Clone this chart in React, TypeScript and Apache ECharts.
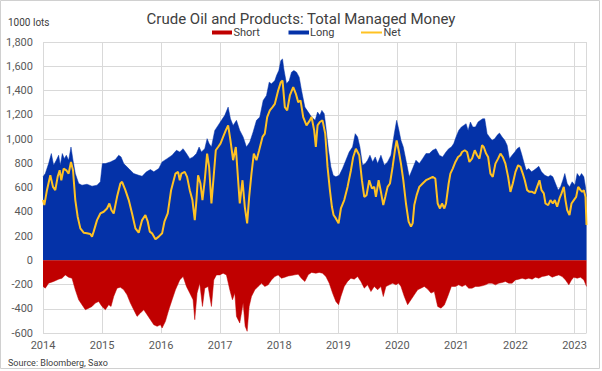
import React, { useEffect, useRef } from "react";
import * as echarts from "echarts";

const TITLE = "Crude Oil and Products: Total Managed Money";
const UNIT_LABEL = "1000 lots";
const SOURCE = "Source: Bloomberg, Saxo";
const X_MIN = 2014;
const X_MAX = 2023.203;

// [decimal year, 1000 lots]
const longData: [number, number][] = [
  [2014.0, 688], [2014.039, 715], [2014.095, 797], [2014.141, 880], [2014.18, 784], [2014.225, 825], [2014.265, 866], [2014.293, 784], [2014.327, 880], [2014.361, 838], [2014.395, 866], [2014.434, 825], [2014.474, 934], [2014.508, 825], [2014.547, 715], [2014.604, 633], [2014.66, 619], [2014.745, 627], [2014.83, 611], [2014.915, 619], [2014.971, 647],
  [2015.005, 797], [2015.056, 797], [2015.141, 811], [2015.225, 830], [2015.282, 866], [2015.322, 852], [2015.367, 797], [2015.452, 756], [2015.536, 715], [2015.621, 701], [2015.678, 693], [2015.751, 729], [2015.819, 748], [2015.876, 729], [2015.96, 756],
  [2016.017, 811], [2016.101, 838], [2016.186, 866], [2016.259, 907], [2016.316, 893], [2016.372, 920], [2016.429, 880], [2016.485, 838], [2016.541, 852], [2016.598, 880], [2016.643, 934], [2016.683, 893], [2016.739, 920], [2016.779, 1003], [2016.813, 962], [2016.852, 934], [2016.909, 1071], [2016.965, 1112],
  [2017.022, 1154], [2017.078, 1195], [2017.135, 1263], [2017.174, 1167], [2017.219, 1112], [2017.276, 1154], [2017.332, 1071], [2017.389, 1017], [2017.445, 934], [2017.502, 975], [2017.558, 1058], [2017.615, 1154], [2017.671, 1181], [2017.728, 1318], [2017.784, 1359], [2017.83, 1469], [2017.869, 1455], [2017.926, 1482], [2017.954, 1523], [2017.993, 1565],
  [2018.027, 1647], [2018.056, 1660], [2018.078, 1578], [2018.123, 1455], [2018.169, 1482], [2018.208, 1551], [2018.248, 1565], [2018.293, 1551], [2018.338, 1510], [2018.378, 1400], [2018.434, 1263], [2018.491, 1222], [2018.547, 1181], [2018.609, 1154], [2018.649, 1222], [2018.688, 1195], [2018.722, 1236], [2018.762, 1208], [2018.79, 1099], [2018.835, 907], [2018.875, 770], [2018.914, 701], [2018.959, 688],
  [2019.016, 701], [2019.072, 756], [2019.129, 825], [2019.185, 893], [2019.242, 934], [2019.287, 1044], [2019.327, 1017], [2019.366, 934], [2019.411, 784], [2019.457, 797], [2019.496, 825], [2019.536, 866], [2019.581, 811], [2019.626, 852], [2019.666, 797], [2019.722, 866], [2019.779, 784], [2019.835, 811], [2019.892, 866], [2019.948, 1044], [2019.988, 1154],
  [2020.022, 1085], [2020.061, 989], [2020.101, 934], [2020.146, 825], [2020.202, 688], [2020.259, 756], [2020.315, 825], [2020.372, 797], [2020.428, 838], [2020.485, 880], [2020.541, 880], [2020.598, 907], [2020.654, 920], [2020.711, 866], [2020.767, 852], [2020.824, 893], [2020.87, 920], [2020.915, 934], [2020.955, 962], [2020.994, 1017],
  [2021.039, 1071], [2021.085, 1099], [2021.124, 1112], [2021.164, 1126], [2021.198, 1071], [2021.237, 1140], [2021.277, 1099], [2021.322, 1099], [2021.367, 1140], [2021.407, 1154], [2021.446, 1167], [2021.48, 1167], [2021.52, 1044], [2021.559, 1017], [2021.604, 989], [2021.65, 1003], [2021.689, 1030], [2021.729, 1049], [2021.774, 1017], [2021.819, 989], [2021.859, 948], [2021.898, 838], [2021.943, 866], [2021.989, 893],
  [2022.028, 920], [2022.068, 934], [2022.102, 880], [2022.141, 811], [2022.181, 742], [2022.226, 756], [2022.271, 729], [2022.311, 742], [2022.35, 756], [2022.395, 775], [2022.441, 729], [2022.497, 701], [2022.554, 688], [2022.593, 701], [2022.633, 688], [2022.678, 633], [2022.723, 578], [2022.763, 605], [2022.802, 660], [2022.836, 715], [2022.876, 633], [2022.915, 605], [2022.96, 647],
  [2023.006, 619], [2023.045, 715], [2023.085, 688], [2023.119, 715], [2023.158, 688], [2023.186, 605], [2023.203, 523],
];

const shortData: [number, number][] = [
  [2014.0, -216], [2014.039, -230], [2014.095, -189], [2014.18, -175], [2014.265, -156], [2014.322, -148], [2014.378, -121], [2014.434, -140], [2014.491, -148], [2014.547, -244], [2014.604, -326], [2014.66, -367], [2014.717, -408], [2014.774, -395], [2014.83, -381], [2014.887, -353], [2014.943, -340], [2014.999, -381],
  [2015.056, -408], [2015.113, -367], [2015.152, -381], [2015.197, -299], [2015.254, -230], [2015.31, -222], [2015.367, -244], [2015.423, -285], [2015.48, -353], [2015.536, -408], [2015.593, -463], [2015.649, -436], [2015.706, -408], [2015.763, -449], [2015.819, -490], [2015.876, -532], [2015.932, -545], [2015.989, -532],
  [2016.017, -559], [2016.073, -504], [2016.13, -408], [2016.186, -326], [2016.243, -244], [2016.316, -162], [2016.372, -134], [2016.429, -216], [2016.485, -271], [2016.541, -326], [2016.57, -490], [2016.609, -271], [2016.654, -189], [2016.7, -381], [2016.739, -230], [2016.796, -216], [2016.852, -381], [2016.892, -162], [2016.937, -121], [2016.993, -121],
  [2017.05, -107], [2017.106, -121], [2017.163, -244], [2017.208, -326], [2017.248, -271], [2017.276, -463], [2017.332, -518], [2017.389, -353], [2017.423, -545], [2017.457, -586], [2017.491, -381], [2017.53, -299], [2017.587, -244], [2017.643, -216], [2017.7, -189], [2017.756, -216], [2017.813, -203], [2017.869, -162], [2017.926, -134], [2017.982, -121],
  [2018.039, -148], [2018.095, -140], [2018.152, -130], [2018.208, -125], [2018.265, -120], [2018.321, -115], [2018.378, -150], [2018.434, -175], [2018.491, -120], [2018.547, -100], [2018.62, -107], [2018.677, -100], [2018.733, -107], [2018.79, -134], [2018.847, -189], [2018.903, -271], [2018.959, -340],
  [2019.005, -367], [2019.044, -299], [2019.101, -216], [2019.157, -175], [2019.214, -148], [2019.27, -156], [2019.327, -134], [2019.383, -175], [2019.44, -230], [2019.496, -203], [2019.553, -258], [2019.609, -216], [2019.666, -244], [2019.722, -216], [2019.762, -299], [2019.807, -216], [2019.863, -203], [2019.92, -189], [2019.976, -203],
  [2020.022, -189], [2020.061, -216], [2020.118, -299], [2020.174, -367], [2020.231, -326], [2020.287, -285], [2020.344, -244], [2020.4, -230], [2020.457, -216], [2020.513, -238], [2020.57, -271], [2020.626, -258], [2020.683, -381], [2020.739, -395], [2020.796, -370], [2020.852, -300], [2020.915, -216], [2020.983, -216],
  [2021.039, -203], [2021.096, -216], [2021.152, -203], [2021.209, -230], [2021.265, -230], [2021.322, -216], [2021.378, -216], [2021.435, -211], [2021.491, -203], [2021.548, -189], [2021.604, -189], [2021.661, -203], [2021.717, -189], [2021.774, -184], [2021.83, -175], [2021.887, -189], [2021.943, -189],
  [2022.0, -162], [2022.056, -156], [2022.113, -148], [2022.169, -156], [2022.226, -148], [2022.282, -156], [2022.339, -140], [2022.395, -148], [2022.452, -134], [2022.508, -129], [2022.565, -121], [2022.621, -140], [2022.678, -129], [2022.734, -121], [2022.791, -134], [2022.847, -162], [2022.904, -203], [2022.949, -162], [2022.989, -140],
  [2023.045, -148], [2023.102, -140], [2023.158, -162], [2023.203, -216],
];

const netData: [number, number][] = [
  [2014.0, 496], [2014.022, 455], [2014.067, 578], [2014.124, 701], [2014.169, 605], [2014.208, 578], [2014.248, 688], [2014.282, 742], [2014.31, 660], [2014.35, 756], [2014.395, 742], [2014.434, 715], [2014.474, 811], [2014.508, 742], [2014.547, 496], [2014.587, 359], [2014.632, 263], [2014.689, 227], [2014.745, 222], [2014.801, 216], [2014.83, 195], [2014.858, 236], [2014.915, 331], [2014.971, 386],
  [2015.028, 400], [2015.084, 427], [2015.124, 468], [2015.158, 414], [2015.197, 386], [2015.254, 523], [2015.31, 633], [2015.339, 647], [2015.395, 578], [2015.452, 496], [2015.508, 386], [2015.565, 263], [2015.621, 227], [2015.678, 331], [2015.734, 373], [2015.774, 318], [2015.808, 236], [2015.847, 222], [2015.904, 173], [2015.96, 195],
  [2016.017, 222], [2016.056, 318], [2016.112, 386], [2016.169, 578], [2016.243, 715], [2016.287, 729], [2016.316, 660], [2016.344, 715], [2016.4, 729], [2016.44, 688], [2016.485, 578], [2016.53, 496], [2016.57, 331], [2016.598, 496], [2016.626, 701], [2016.666, 633], [2016.7, 496], [2016.739, 660], [2016.779, 880], [2016.813, 770], [2016.852, 468], [2016.88, 633], [2016.926, 907], [2016.965, 934],
  [2017.005, 962], [2017.05, 1017], [2017.095, 1071], [2017.135, 1112], [2017.174, 989], [2017.219, 825], [2017.265, 934], [2017.304, 660], [2017.332, 468], [2017.378, 660], [2017.417, 441], [2017.457, 304], [2017.491, 523], [2017.53, 715], [2017.57, 880], [2017.615, 825], [2017.66, 907], [2017.717, 1017], [2017.756, 1044], [2017.796, 1181], [2017.841, 1236], [2017.886, 1263], [2017.926, 1290], [2017.982, 1400],
  [2018.027, 1469], [2018.056, 1482], [2018.095, 1263], [2018.135, 1236], [2018.18, 1359], [2018.237, 1428], [2018.282, 1373], [2018.321, 1304], [2018.361, 1318], [2018.406, 1181], [2018.462, 1112], [2018.519, 1154], [2018.547, 1181], [2018.592, 1071], [2018.62, 934], [2018.649, 1112], [2018.688, 1140], [2018.733, 1154], [2018.779, 1044], [2018.818, 770], [2018.858, 578], [2018.892, 441], [2018.92, 373], [2018.959, 345],
  [2019.005, 304], [2019.044, 427], [2019.101, 496], [2019.157, 605], [2019.214, 742], [2019.253, 852], [2019.298, 920], [2019.355, 866], [2019.4, 660], [2019.44, 523], [2019.479, 537], [2019.524, 660], [2019.57, 592], [2019.609, 605], [2019.637, 523], [2019.683, 660], [2019.722, 564], [2019.762, 455], [2019.796, 523], [2019.835, 605], [2019.875, 633], [2019.92, 770], [2019.959, 907], [2019.988, 989],
  [2020.022, 907], [2020.061, 797], [2020.101, 660], [2020.146, 468], [2020.191, 318], [2020.231, 277], [2020.259, 304], [2020.287, 455], [2020.327, 537], [2020.372, 605], [2020.428, 633], [2020.485, 660], [2020.541, 674], [2020.598, 688], [2020.643, 674], [2020.683, 468], [2020.722, 427], [2020.756, 468], [2020.796, 427], [2020.824, 468], [2020.869, 633], [2020.898, 715], [2020.938, 756], [2020.983, 811],
  [2021.028, 852], [2021.068, 866], [2021.096, 893], [2021.141, 907], [2021.181, 893], [2021.22, 811], [2021.265, 838], [2021.311, 907], [2021.35, 866], [2021.39, 838], [2021.435, 948], [2021.463, 934], [2021.503, 880], [2021.537, 852], [2021.576, 715], [2021.616, 688], [2021.661, 797], [2021.706, 838], [2021.746, 880], [2021.785, 852], [2021.83, 797], [2021.876, 688], [2021.915, 564], [2021.955, 633],
  [2022.0, 729], [2022.045, 784], [2022.085, 770], [2022.124, 715], [2022.158, 660], [2022.198, 578], [2022.237, 564], [2022.282, 564], [2022.328, 551], [2022.367, 605], [2022.407, 660], [2022.441, 578], [2022.48, 551], [2022.508, 468], [2022.554, 455], [2022.593, 496], [2022.633, 468], [2022.667, 496], [2022.706, 441], [2022.746, 510], [2022.78, 551], [2022.819, 605], [2022.847, 496], [2022.876, 414], [2022.915, 373], [2022.949, 468], [2022.989, 496],
  [2023.028, 523], [2023.062, 605], [2023.102, 578], [2023.13, 564], [2023.158, 578], [2023.186, 523], [2023.203, 290],
];

const SHORT_COLOR = "#C00000";
const LONG_COLOR = "#0432A8";
const NET_COLOR = "#FFC223";
const TEXT_COLOR = "#404040";
const FONT = "Roboto, 'Liberation Sans', sans-serif";

export default function App() {
  const ref = useRef<HTMLDivElement>(null);

  useEffect(() => {
    const chart = echarts.init(ref.current!, undefined, { renderer: "svg" });
    chart.setOption({
      animation: false,
      backgroundColor: "#ffffff",
      textStyle: { fontFamily: FONT },
      title: {
        text: TITLE,
        left: "center",
        top: 6,
        textStyle: { fontSize: 15, fontWeight: "normal", color: TEXT_COLOR, fontFamily: FONT },
      },
      grid: { left: 43, right: 15.5, top: 42, bottom: 38, containLabel: false },
      xAxis: {
        type: "value",
        min: X_MIN,
        max: X_MAX,
        interval: 1,
        axisLine: { show: false },
        axisTick: { show: false },
        axisLabel: {
          margin: 7,
          fontSize: 11,
          color: "#595959",
          fontFamily: FONT,
          formatter: (v: number) => (Math.abs(v - Math.round(v)) < 1e-6 ? String(Math.round(v)) : ""),
        },
        splitLine: { show: true, lineStyle: { color: "#D9D9D9", width: 1 } },
      },
      yAxis: {
        type: "value",
        min: -600,
        max: 1800,
        interval: 200,
        axisLine: { show: false },
        axisTick: { show: false },
        axisLabel: {
          margin: 10,
          fontSize: 11,
          color: "#595959",
          fontFamily: FONT,
          formatter: (v: number) => v.toLocaleString("en-US"),
        },
        splitLine: { show: true, lineStyle: { color: "#D9D9D9", width: 1 } },
      },
      series: [
        {
          name: "Long",
          type: "line",
          data: longData,
          symbol: "none",
          lineStyle: { width: 0.5, color: LONG_COLOR },
          itemStyle: { color: LONG_COLOR },
          areaStyle: { color: LONG_COLOR, opacity: 1 },
          z: 2,
        },
        {
          name: "Short",
          type: "line",
          data: shortData,
          symbol: "none",
          lineStyle: { width: 0.5, color: SHORT_COLOR },
          itemStyle: { color: SHORT_COLOR },
          areaStyle: { color: SHORT_COLOR, opacity: 1 },
          z: 2,
        },
        {
          name: "Net",
          type: "line",
          data: netData,
          symbol: "none",
          lineStyle: { width: 2, color: NET_COLOR },
          itemStyle: { color: NET_COLOR },
          z: 3,
        },
      ],
      graphic: [
        {
          type: "rect",
          shape: { x: 0.5, y: 0.5, width: 599, height: 368 },
          style: { fill: "none", stroke: "#D0D0D0", lineWidth: 1 },
          silent: true,
        },
        {
          type: "text",
          x: 8,
          y: 22,
          style: { text: UNIT_LABEL, fontSize: 10, fill: TEXT_COLOR, fontFamily: FONT, verticalAlign: "middle" },
        },
        { type: "rect", shape: { x: 212, y: 30.5, width: 20, height: 4 }, style: { fill: SHORT_COLOR } },
        {
          type: "text",
          x: 233.5,
          y: 32.5,
          style: { text: "Short", fontSize: 11, fill: TEXT_COLOR, fontFamily: FONT, verticalAlign: "middle" },
        },
        { type: "rect", shape: { x: 288.5, y: 30.5, width: 20.5, height: 4 }, style: { fill: LONG_COLOR } },
        {
          type: "text",
          x: 310,
          y: 32.5,
          style: { text: "Long", fontSize: 11, fill: TEXT_COLOR, fontFamily: FONT, verticalAlign: "middle" },
        },
        {
          type: "line",
          shape: { x1: 361, y1: 32.5, x2: 382, y2: 32.5 },
          style: { stroke: NET_COLOR, lineWidth: 2 },
        },
        {
          type: "text",
          x: 383.5,
          y: 32.5,
          style: { text: "Net", fontSize: 11, fill: TEXT_COLOR, fontFamily: FONT, verticalAlign: "middle" },
        },
        {
          type: "text",
          x: 8,
          y: 363,
          style: { text: SOURCE, fontSize: 9, fill: TEXT_COLOR, fontFamily: FONT, verticalAlign: "middle" },
        },
      ],
    });
    return () => chart.dispose();
  }, []);

  return (
    <div
      ref={ref}
      style={{ position: "absolute", left: 0, top: 0, width: 602, height: 371, background: "#ffffff" }}
    />
  );
}
